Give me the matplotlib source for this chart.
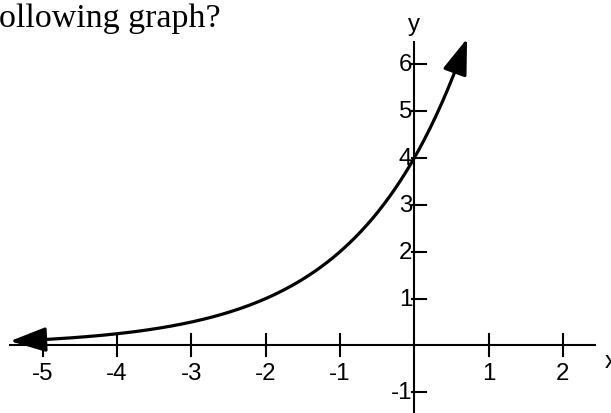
import numpy as np
import matplotlib.pyplot as plt

# graph of y = a * b**x with arrowheads at both ends
a = 4.0
b = 2.0
x_start = -5.44
x_end = 0.71

x_ticks = [-5, -4, -3, -2, -1, 1, 2]
y_ticks = [-1, 1, 2, 3, 4, 5, 6]
x_labels = ["-5", "-4", "-3", "-2", "-1", "1", "2"]
y_labels = ["-1", "1", "2", "3", "4", "5", "6"]


def f(x):
    return a * b ** x


def main():
    fig = plt.figure(figsize=(6.11, 4.14), dpi=100)
    ax = fig.add_axes([0, 0, 1, 1])
    ax.set_xlim(-5.576, 2.647)
    ax.set_ylim(-1.44, 7.388)
    ax.axis("off")

    # axes lines
    ax.plot([-5.45, 2.445], [0, 0], color="black", lw=1.5, solid_capstyle="butt")
    ax.plot([0, 0], [-1.5, 6.49], color="black", lw=1.5, solid_capstyle="butt")

    # tick marks and labels
    for t, lab in zip(x_ticks, x_labels):
        ax.plot([t, t], [-0.235, 0.235], color="black", lw=1.5)
        ax.text(t, -0.58, lab, ha="center", va="center", fontsize=17.3,
                family="Liberation Sans")
    for t, lab in zip(y_ticks, y_labels):
        ax.plot([-0.025, 0.16], [t, t], color="black", lw=1.5)
        ax.text(-0.03, t, lab, ha="right", va="center", fontsize=17.3,
                family="Liberation Sans")

    ax.text(0, 6.86, "y", ha="center", va="center", fontsize=17.3,
            family="Liberation Sans")
    ax.text(2.565, -0.33, "x", ha="left", va="center", fontsize=17.3,
            family="Liberation Sans")

    # curve
    xs = np.linspace(-5.2, 0.6, 300)
    ax.plot(xs, f(xs), color="black", lw=2.3)
    style = "-|>,head_length=1.1,head_width=0.38"
    ax.annotate("", xy=(x_start, f(x_start)), xytext=(-5.2, f(-5.2)),
                arrowprops=dict(arrowstyle=style, color="black", lw=2.3,
                                mutation_scale=20, shrinkA=0, shrinkB=0))
    ax.annotate("", xy=(x_end, f(x_end)), xytext=(0.6, f(0.6)),
                arrowprops=dict(arrowstyle=style, color="black", lw=2.3,
                                mutation_scale=20, shrinkA=0, shrinkB=0))

    fig.text(-0.002, 1 - 27 / 414, "ollowing graph?", ha="left", va="baseline",
             fontsize=24.5, family="Liberation Serif")

    fig.savefig("out.png", dpi=100)


if __name__ == "__main__":
    main()
